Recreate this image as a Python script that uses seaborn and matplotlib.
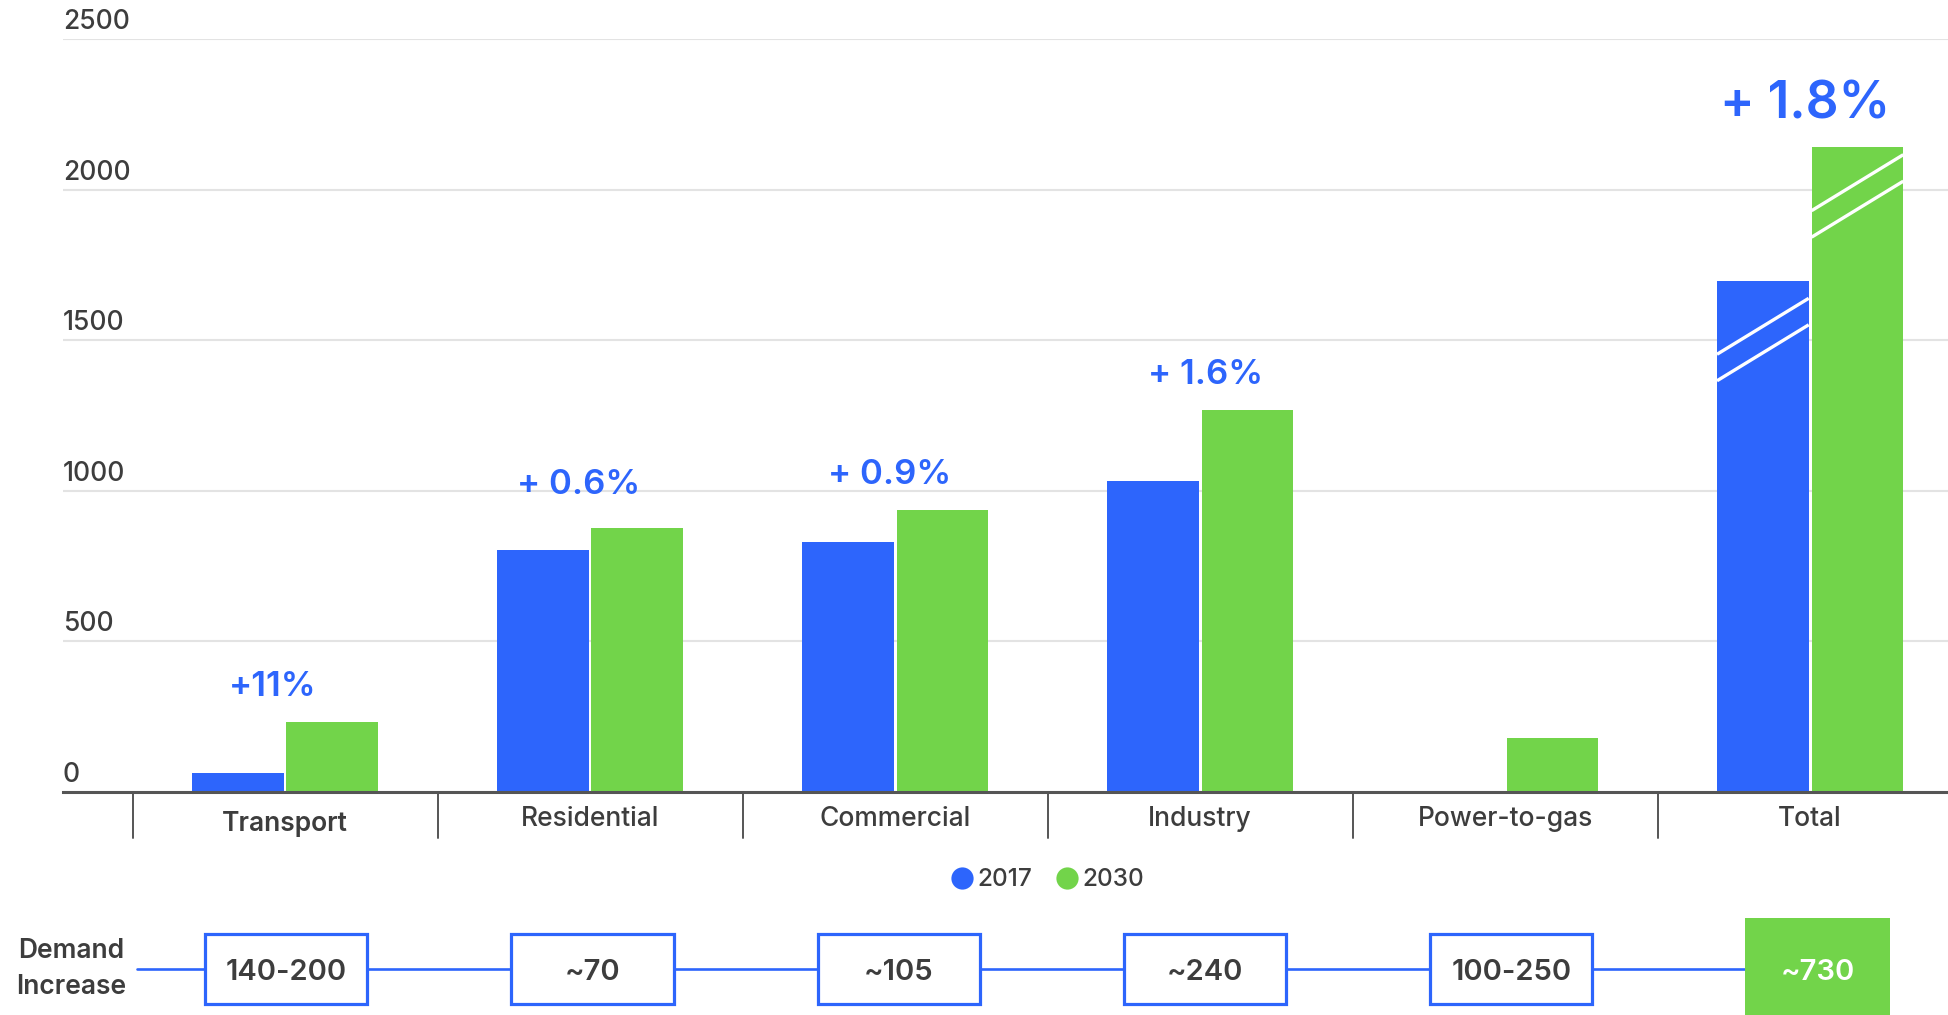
import matplotlib
matplotlib.use("Agg")
import matplotlib.pyplot as plt
import matplotlib.transforms as mtransforms
from matplotlib.patches import Rectangle
from matplotlib.lines import Line2D
import numpy as np
import pandas as pd
import seaborn as sns

# ---- data -------------------------------------------------------------
sectors = ["Transport", "Residential", "Commercial", "Industry", "Power-to-gas", "Total"]
years = ["2017", "2030"]
demand_2017 = [63, 805, 830, 1033, np.nan, 1699]
demand_2030 = [232, 876, 937, 1268, 179, 2142]
growth_labels = ["+11%", "+ 0.6%", "+ 0.9%", "+ 1.6%", "", "+ 1.8%"]
increase_labels = ["140-200", "~70", "~105", "~240", "100-250", "~730"]
y_ticks = [0, 500, 1000, 1500, 2000, 2500]

# ---- style ------------------------------------------------------------
BLUE = "#2D65FC"
GREEN = "#72D44A"
TEXT = "#3d3d3d"
sns.set_theme(style="white")
plt.rcParams["font.family"] = ["Inter", "DejaVu Sans"]

W, H = 1948, 1015
fig = plt.figure(figsize=(W / 100, H / 100), dpi=100)
fig.patch.set_facecolor("white")

left_px, base_px, top_px = 63, 792, 38.5
ax = fig.add_axes([left_px / W, 1 - base_px / H, 1 - left_px / W, (base_px - top_px) / H])

df = pd.DataFrame({
    "sector": sectors * 2,
    "year": [years[0]] * len(sectors) + [years[1]] * len(sectors),
    "value": demand_2017 + demand_2030,
})

sns.barplot(data=df, x="sector", y="value", hue="year", order=sectors,
            hue_order=years, palette=[BLUE, GREEN], saturation=1,
            width=0.62, gap=0.03, errorbar=None, legend=False,
            edgecolor="none", ax=ax)

xmin, xmax = -0.728, 5.452
ax.set_xlim(xmin, xmax)
ax.set_ylim(0, 2503)
ax.set_xlabel("")
ax.set_ylabel("")

for side in ["left", "top", "right"]:
    ax.spines[side].set_visible(False)
ax.spines["bottom"].set_color("#555555")
ax.spines["bottom"].set_linewidth(2.2)

ax.set_axisbelow(True)
ax.yaxis.grid(True, color="#e3e3e3", linewidth=1.5)
ax.xaxis.grid(False)

# y tick labels sit above their gridlines, left aligned
ax.set_yticks(y_ticks)
ax.tick_params(axis="y", length=0, pad=0, labelsize=19, labelcolor=TEXT)
lift = mtransforms.ScaledTranslation(0, 0.04, fig.dpi_scale_trans)
for lbl in ax.get_yticklabels():
    lbl.set_horizontalalignment("left")
    lbl.set_verticalalignment("bottom")
    lbl.set_fontweight("medium")
    lbl.set_transform(lbl.get_transform() + lift)

# category labels
ax.set_xticks(range(len(sectors)))
ax.set_xticklabels(sectors)
ax.tick_params(axis="x", length=0, pad=10, labelsize=19, labelcolor=TEXT)
for lbl in ax.get_xticklabels():
    lbl.set_fontweight("medium")
first = ax.get_xticklabels()[0]
first.set_fontweight("semibold")
first.set_transform(first.get_transform()
                    + mtransforms.ScaledTranslation(0, -0.05, fig.dpi_scale_trans))

# separators between categories below the axis
sep_trans = mtransforms.blended_transform_factory(ax.transData, ax.transAxes)
for b in np.arange(-0.5, len(sectors) - 1, 1.0):
    ax.plot([b, b], [0, -0.061], transform=sep_trans, color="#555555",
            lw=1.4, clip_on=False)

# growth annotations above each group (with small hand-set nudges, in points)
label_nudge = {0: (-9, 19), 1: (-8, 25), 2: (-4, 19), 3: (4, 19), 5: (-4, 21)}
for i, txt in enumerate(growth_labels):
    if not txt:
        continue
    top = np.nanmax([demand_2017[i], demand_2030[i]])
    big = i == len(sectors) - 1
    ax.annotate(txt, (i, top), xytext=label_nudge[i],
                textcoords="offset points", ha="center", va="baseline",
                fontsize=37 if big else 25, fontweight="semibold", color=BLUE)

# broken-axis marks on the Total bars
break_drop = {0: 196, 1: 162}   # distance of the break centre below bar top
for k, cont in enumerate(ax.containers):
    bars = [p for p in cont.patches if np.isfinite(p.get_height())]
    bar = max(bars, key=lambda p: p.get_x())
    x0, x1 = bar.get_x(), bar.get_x() + bar.get_width()
    mid = bar.get_height() - break_drop[k]
    for dy in (-44, 44):
        ax.plot([x0, x1], [mid + dy - 93, mid + dy + 93], color="white",
                lw=2.4, solid_capstyle="butt")

# legend
handles = [Line2D([], [], marker="o", linestyle="none", markersize=16,
                  markerfacecolor=c, markeredgecolor="none") for c in (BLUE, GREEN)]
fig.legend(handles, years, loc="center", bbox_to_anchor=(1047 / W, 1 - 880 / H),
           ncol=2, frameon=False, handletextpad=0.15,
           columnspacing=0.9, handlelength=1.0, labelcolor=TEXT,
           prop={"size": 17.5, "weight": "medium"})

# demand increase row
ax2 = fig.add_axes([left_px / W, 0, 1 - left_px / W, (H - 918) / H])
ax2.set_xlim(xmin, xmax)
ax2.set_ylim(H, 918)
ax2.axis("off")

row_y = 969
last = len(sectors) - 1
row_x = [i * 1.004 + 0.004 for i in range(len(sectors))]
ax2.plot([-0.485, row_x[last] - 0.238], [row_y, row_y], color=BLUE, lw=1.9, zorder=1)
for i, txt in enumerate(increase_labels):
    cx = row_x[i]
    if i == last:
        ax2.add_patch(Rectangle((cx - 0.238, 918), 0.476, 110, facecolor=GREEN,
                                edgecolor="none", zorder=3))
        color = "white"
    else:
        ax2.add_patch(Rectangle((cx - 0.266, 934), 0.532, 70, facecolor="white",
                                edgecolor=BLUE, lw=2.3, zorder=3))
        color = TEXT
    ax2.text(cx, row_y, txt, ha="center", va="center_baseline", fontsize=21,
             fontweight="semibold", color=color, zorder=4)

fig.text(71 / W, 1 - row_y / H, "Demand\nIncrease", ha="center", va="center",
         fontsize=19, fontweight="semibold", color=TEXT, linespacing=1.45)

fig.savefig("out.png", dpi=100, facecolor="white")
